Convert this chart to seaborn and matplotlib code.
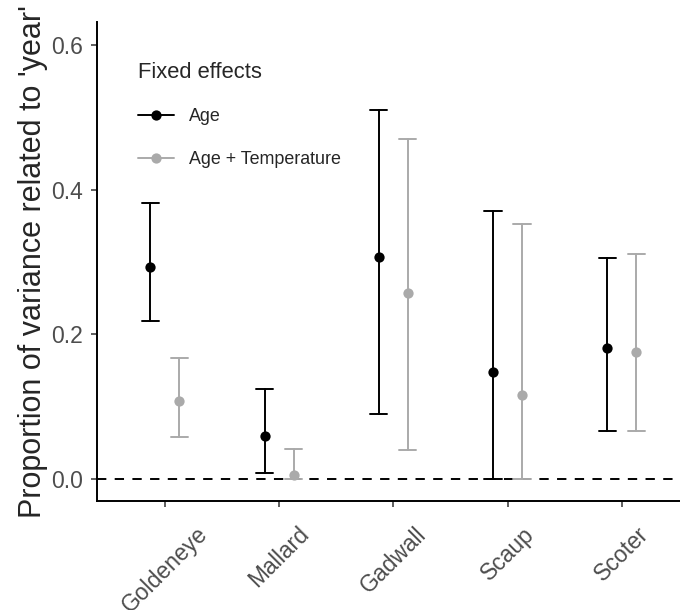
import numpy as np
import pandas as pd
import seaborn as sns
import matplotlib
matplotlib.use("Agg")
import matplotlib.pyplot as plt
from matplotlib.lines import Line2D

# valores
species = ["Goldeneye", "Mallard", "Gadwall", "Scaup", "Scoter"]
models = ["Age", "Age + Temperature"]
age_est = [0.293, 0.059, 0.307, 0.148, 0.181]
age_lo = [0.218, 0.008, 0.090, 0.000, 0.067]
age_hi = [0.381, 0.124, 0.510, 0.370, 0.305]
temp_est = [0.108, 0.006, 0.257, 0.116, 0.176]
temp_lo = [0.058, 0.000, 0.040, 0.000, 0.067]
temp_hi = [0.167, 0.041, 0.470, 0.352, 0.311]
cores = ["#000000", "#AAAAAA"]

# tabela longa: lo, est, hi por grupo (mediana = estimativa, min/max = intervalo)
linhas = []
for modelo, est, lo, hi in [(models[0], age_est, age_lo, age_hi),
                            (models[1], temp_est, temp_lo, temp_hi)]:
    for i, sp in enumerate(species):
        for v in (lo[i], est[i], hi[i]):
            linhas.append({"species": sp, "model": modelo, "value": v})
df = pd.DataFrame(linhas)

sns.set_style("ticks")
plt.rcParams["font.family"] = ["Liberation Sans", "DejaVu Sans"]

fig = plt.figure(figsize=(6.8, 6.1), dpi=100)
ax = fig.add_axes([97 / 680, 1 - 501 / 610, (680 - 97) / 680, (501 - 22) / 610])

sns.pointplot(data=df, x="species", y="value", hue="model", order=species,
              hue_order=models, palette=cores, estimator="median",
              errorbar=("pi", 100), dodge=0.254, linestyle="none",
              markers="o", markersize=7.4, markeredgewidth=0,
              capsize=0.15, err_kws={"linewidth": 1.4}, ax=ax, legend=False)

ax.axhline(0, color="black", linewidth=1.4, dashes=(4.8, 4.3), zorder=0)

ax.set_xlim(-0.595, 4.51)
ax.set_ylim(-0.0304, 0.6316)
ax.set_yticks([0.0, 0.2, 0.4, 0.6])
ax.set_yticklabels(["0.0", "0.2", "0.4", "0.6"])
ax.set_xlabel("")
ax.set_ylabel("Proportion of variance related to 'year'", fontsize=22, labelpad=2)

for s in ["top", "right"]:
    ax.spines[s].set_visible(False)
for s in ["left", "bottom"]:
    ax.spines[s].set_linewidth(1.4)
    ax.spines[s].set_color("black")
ax.tick_params(axis="both", length=4.5, width=1.1, color="#333333",
               labelcolor="#4D4D4D", labelsize=16.5)
ax.tick_params(axis="y", pad=5.5)
ax.tick_params(axis="x", pad=11)
for lab in ax.get_xticklabels():
    lab.set_rotation(45)
    lab.set_ha("center")

handles = [Line2D([0], [0], color=c, linewidth=1.4, marker="o", markersize=7.4,
                  markeredgewidth=0) for c in cores]
leg = ax.legend(handles, models, title="Fixed effects", frameon=False,
                loc="upper left", bbox_to_anchor=(138 / 680, 1 - 62 / 610),
                bbox_transform=fig.transFigure, borderpad=0, borderaxespad=0,
                fontsize=12.9, title_fontsize=15.8, handlelength=2.0,
                handletextpad=0.85, labelspacing=1.42, alignment="left")

plt.savefig("out.png", dpi=100)
